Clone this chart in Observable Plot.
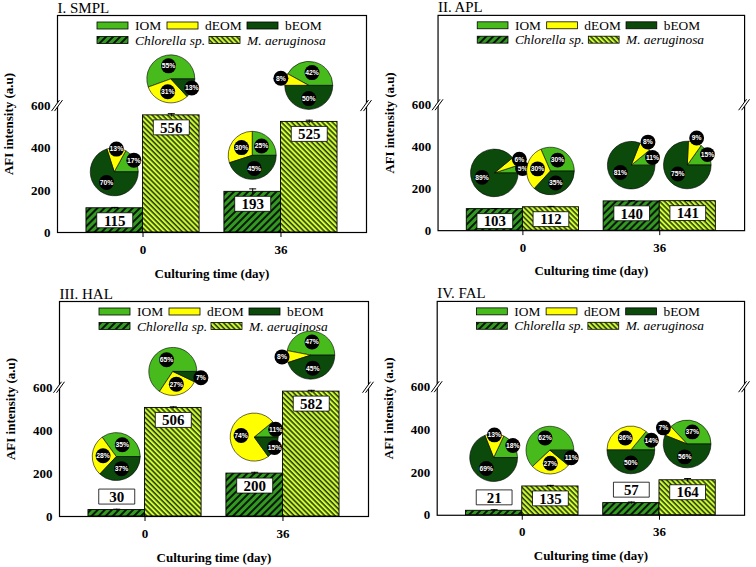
<!DOCTYPE html>
<html>
<head>
<meta charset="utf-8">
<script src="https://cdn.jsdelivr.net/npm/d3@7"></script>
<script src="https://cdn.jsdelivr.net/npm/@observablehq/plot@0.6"></script>
<style>
  html, body { margin: 0; padding: 0; background: #fff; overflow: hidden; }
  #root { position: relative; width: 756px; height: 567px; overflow: hidden; }
  .panel { position: absolute; }
</style>
</head>
<body>
<svg width="0" height="0" style="position:absolute">
  <defs>
    <pattern id="hatchC" patternUnits="userSpaceOnUse" width="5" height="5" patternTransform="rotate(45)">
      <rect width="5" height="5" fill="#339922"></rect>
      <line x1="1" y1="0" x2="1" y2="5" stroke="#000" stroke-width="1.7"></line>
    </pattern>
    <pattern id="hatchM" patternUnits="userSpaceOnUse" width="3.6" height="3.6" patternTransform="rotate(-45)">
      <rect width="3.6" height="3.6" fill="#ccff33"></rect>
      <line x1="1" y1="0" x2="1" y2="3.6" stroke="#000" stroke-width="1.2"></line>
    </pattern>
  </defs>
</svg>
<div id="root"></div>
<script>
// ---------------- data ----------------
const panelTitles = ["I. SMPL", "II. APL", "III. HAL", "IV. FAL"];
const times = ["0", "36"];
const species = ["Chlorella sp.", "M. aeruginosa"];
const fractions = ["IOM", "dEOM", "bEOM"];
const yTicks = [0, 200, 400, 600];
const xTitle = "Culturing time (day)";
const yTitle = "AFI intensity (a.u)";

// AFI intensity, order: [Chlorella 0, M. aeruginosa 0, Chlorella 36, M. aeruginosa 36]
const afiSMPL = [115, 556, 193, 525];
const afiAPL  = [103, 112, 140, 141];
const afiHAL  = [30, 506, 200, 582];
const afiFAL  = [21, 135, 57, 164];

// error bars (same order)
const errSMPL = [4, 8, 14, 8];
const errAPL  = [3, 4, 3, 3];
const errHAL  = [4, 5, 6, 6];
const errFAL  = [5, 5, 5, 8];

// pie shares in % [IOM, dEOM, bEOM] (same order)
const pieSMPL = [[17, 13, 70], [55, 31, 13], [25, 30, 45], [42, 8, 50]];
const pieAPL  = [[5, 6, 89], [30, 30, 35], [11, 8, 81], [15, 9, 75]];
const pieHAL  = [[35, 28, 37], [65, 27, 7], [11, 74, 15], [47, 8, 45]];
const pieFAL  = [[18, 13, 69], [62, 27, 11], [14, 36, 50], [37, 7, 56]];

// ---------------- styling ----------------
const fractionColors = ["#47bb1c", "#ffff00", "#0c4a0c"];
const speciesFills = ["url(#hatchC)", "url(#hatchM)"];
const SERIF = "'Liberation Serif', 'Times New Roman', serif";
const SANS = "'Liberation Sans', Arial, sans-serif";
const W = 378, ML = 57, MR = 12, MT = 15, MB = 51;
const P_IN = 0.18, P_OUT = 0.21;
const LABEL_MIN = 80;     // bars shorter than this get their label above
const PIE_R = 24;

const capSymbol = { draw(ctx) { ctx.moveTo(-3.5, 0); ctx.lineTo(3.5, 0); } };
const boxSymbol = { draw(ctx) { ctx.rect(-18, -7.5, 36, 15); } };
const gapSymbol = { draw(ctx) { ctx.moveTo(-6, 5); ctx.lineTo(2, -6); ctx.lineTo(5, -6); ctx.lineTo(-3, 5); ctx.closePath(); } };
const slashSymbol = { draw(ctx) { ctx.moveTo(-6, 5); ctx.lineTo(2, -6); ctx.moveTo(-3, 5); ctx.lineTo(5, -6); } };

const panels = [
  { title: panelTitles[0], afi: afiSMPL, err: errSMPL, pie: pieSMPL, left: 0,   top: 0,   h: 283, ymax: 1030 },
  { title: panelTitles[1], afi: afiAPL,  err: errAPL,  pie: pieAPL,  left: 381, top: 0,   h: 283, ymax: 1030 },
  { title: panelTitles[2], afi: afiHAL,  err: errHAL,  pie: pieHAL,  left: 2,   top: 286, h: 281, ymax: 1002 },
  { title: panelTitles[3], afi: afiFAL,  err: errFAL,  pie: pieFAL,  left: 380, top: 286, h: 281, ymax: 1002 }
];

function buildPanel(p) {
  const plotW = W - ML - MR;
  const step = plotW / (times.length - P_IN + 2 * P_OUT);
  const bw = step * (1 - P_IN);
  const off = si => (si - (species.length - 1) / 2) * bw / species.length;

  const rows = [];
  times.forEach((t, ti) => species.forEach((s, si) => {
    const k = ti * species.length + si;
    rows.push({ time: t, species: s, si, value: p.afi[k], err: p.err[k], pie: p.pie[k] });
  }));

  const marks = [];
  species.forEach((s, si) => {
    const r = rows.filter(d => d.si === si);
    marks.push(Plot.barY(r, {
      x: "time", y: "value", fill: speciesFills[si], stroke: "black", strokeWidth: 0.9,
      insetLeft: si * bw / 2, insetRight: (1 - si) * bw / 2
    }));
    marks.push(Plot.ruleX(r, { x: "time", y1: d => d.value - d.err, y2: d => d.value + d.err, dx: off(si), stroke: "black", strokeWidth: 1 }));
    marks.push(Plot.dot(r, { x: "time", y: d => d.value + d.err, dx: off(si), symbol: capSymbol, stroke: "black", fill: "none", strokeWidth: 1 }));
    const inside = r.filter(d => d.value >= LABEL_MIN);
    const outside = r.filter(d => d.value < LABEL_MIN);
    for (const [set, dy] of [[inside, 12], [outside, -13.5]]) {
      marks.push(Plot.dot(set, { x: "time", y: "value", dx: off(si), dy, symbol: boxSymbol, fill: "white", stroke: "black", strokeWidth: 0.8 }));
      marks.push(Plot.text(set, { x: "time", y: "value", dx: off(si), dy: dy + 0.5, text: d => String(d.value), fontSize: 15, fontWeight: "bold", fontFamily: SERIF, fill: "black" }));
    }
  });

  // pies above bars
  marks.push((index, scales) => {
    const g = d3.create("svg:g");
    const arc = d3.arc().innerRadius(0).outerRadius(PIE_R);
    const pie = d3.pie().sort(null).startAngle(Math.PI / 2).endAngle(Math.PI / 2 - 2 * Math.PI);
    const bwS = scales.x.bandwidth ? scales.x.bandwidth() : bw;
    for (const d of rows) {
      const cx = scales.x(d.time) + bwS / 2 + off(d.si);
      const cy = scales.y(d.value) - (d.value < LABEL_MIN ? 53 : 36);
      const gg = g.append("g").attr("transform", `translate(${cx},${cy})`);
      const arcs = pie(d.pie);
      gg.selectAll("path").data(arcs).join("path")
        .attr("d", arc).attr("fill", (a, i) => fractionColors[i])
        .attr("stroke", "black").attr("stroke-width", 0.6);
      arcs.forEach((a, i) => {
        const v = d.pie[i];
        const k = v < 10 ? 1.2 : v < 20 ? 0.95 : 0.55;
        const m = (a.startAngle + a.endAngle) / 2;
        const lx = Math.sin(m) * PIE_R * k, ly = -Math.cos(m) * PIE_R * k;
        gg.append("circle").attr("cx", lx).attr("cy", ly).attr("r", 7.5).attr("fill", "black");
        gg.append("text").attr("x", lx).attr("y", ly).attr("dy", "0.35em")
          .attr("text-anchor", "middle").attr("fill", "white")
          .attr("font-family", SANS).attr("font-weight", "bold").attr("font-size", 6.8)
          .text(v + "%");
      });
    }
    return g.node();
  });

  // legend inside the frame
  marks.push((index, scales, values, dims) => {
    const g = d3.create("svg:g");
    const x0 = dims.marginLeft, y0 = dims.marginTop;
    const items = [
      { fill: fractionColors[0], label: fractions[0], x: 40, y: 10.5, italic: false },
      { fill: fractionColors[1], label: fractions[1], x: 110, y: 10.5, italic: false },
      { fill: fractionColors[2], label: fractions[2], x: 190, y: 10.5, italic: false },
      { fill: speciesFills[0], label: species[0], x: 40, y: 25, italic: true },
      { fill: speciesFills[1], label: species[1], x: 152, y: 25, italic: true }
    ];
    for (const it of items) {
      g.append("rect").attr("x", x0 + it.x).attr("y", y0 + it.y - 3.5).attr("width", 31).attr("height", 7)
        .attr("fill", it.fill).attr("stroke", "black").attr("stroke-width", 0.8);
      g.append("text").attr("x", x0 + it.x + 38).attr("y", y0 + it.y).attr("dy", "0.35em")
        .attr("text-anchor", "start")
        .attr("font-family", SERIF).attr("font-size", 13.5).attr("font-weight", "normal")
        .attr("font-style", it.italic ? "italic" : "normal").attr("fill", "black")
        .text(it.label);
    }
    return g.node();
  });

  marks.push(Plot.frame({ stroke: "black", strokeWidth: 1.2 }));
  // axis breaks at 600
  for (const anchor of ["left", "right"]) {
    marks.push(Plot.dot([yTicks[3]], { y: d => d, frameAnchor: anchor, symbol: gapSymbol, fill: "white", stroke: "none" }));
    marks.push(Plot.dot([yTicks[3]], { y: d => d, frameAnchor: anchor, symbol: slashSymbol, fill: "none", stroke: "black", strokeWidth: 1 }));
  }
  marks.push(Plot.axisY({ ticks: yTicks, tickSize: 0, tickPadding: 7, label: null, fontSize: 13, fontWeight: "bold", fontFamily: SERIF }));
  marks.push(Plot.axisX({ tickSize: 5, tickPadding: 7, label: null, fontSize: 13, fontWeight: "bold", fontFamily: SERIF }));
  marks.push(Plot.text([p.title], { frameAnchor: "top-left", dy: -3, lineAnchor: "bottom", textAnchor: "start", fontSize: 15, fontFamily: SERIF, fill: "black" }));
  marks.push(Plot.text([yTitle], { frameAnchor: "left", dx: -49, rotate: -90, textAnchor: "middle", fontSize: 13, fontWeight: "bold", fontFamily: SERIF, fill: "black" }));
  marks.push(Plot.text([xTitle], { frameAnchor: "bottom", dy: 45, textAnchor: "middle", fontSize: 13, fontWeight: "bold", fontFamily: SERIF, fill: "black" }));

  const chart = Plot.plot({
    width: W, height: p.h,
    marginLeft: ML, marginRight: MR, marginTop: MT, marginBottom: MB,
    style: { fontFamily: SERIF, background: "transparent", overflow: "visible", color: "black" },
    x: { type: "band", domain: times, paddingInner: P_IN, paddingOuter: P_OUT, round: false, axis: null },
    y: { domain: [0, p.ymax], axis: null },
    marks
  });
  const div = document.createElement("div");
  div.className = "panel";
  div.style.left = p.left + "px";
  div.style.top = p.top + "px";
  div.appendChild(chart);
  document.getElementById("root").appendChild(div);
}

panels.forEach(buildPanel);
</script>
</body>
</html>
